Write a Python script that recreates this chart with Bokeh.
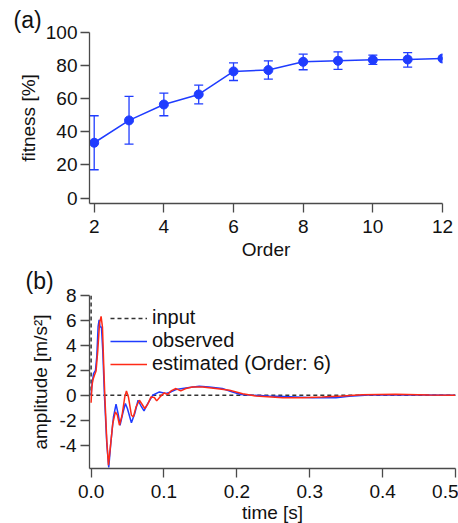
from bokeh.plotting import figure
from bokeh.layouts import column
from bokeh.models import (ColumnDataSource, Whisker, TeeHead, Legend,
                          LegendItem, FixedTicker)
from bokeh.embed import file_html
from bokeh.resources import INLINE

# ---------------- data: panel (a) ----------------
order = [2, 3, 4, 5, 6, 7, 8, 9, 10, 11, 12]
fitness = [33.4, 46.9, 56.5, 62.6, 76.5, 77.3, 82.3, 82.9, 83.5, 83.7, 84.3]
fit_upper = [49.7, 61.4, 63.4, 68.2, 81.7, 82.9, 86.9, 88.3, 86.3, 87.9, 84.8]
fit_lower = [17.1, 32.6, 49.7, 56.9, 71.0, 71.8, 77.5, 77.7, 80.7, 79.1, 83.8]
a_xticks = [2, 4, 6, 8, 10, 12]
a_yticks = [0, 20, 40, 60, 80, 100]

# ---------------- data: panel (b) ----------------
input_t = [0.0, 0.0, 0.5]
input_amp = [8.0, 0.0, 0.0]

obs_t = [0.0, 0.0014, 0.0033, 0.006, 0.0078, 0.0096, 0.011, 0.0123, 0.0142,
         0.016, 0.0183, 0.0215, 0.0242, 0.027, 0.0307, 0.0342, 0.037, 0.0397,
         0.0434, 0.047, 0.0498, 0.0553, 0.0599, 0.0644, 0.068, 0.0726, 0.0777,
         0.0845, 0.0937, 0.1027, 0.1096, 0.1164, 0.1347, 0.1485, 0.162, 0.180,
         0.194, 0.2055, 0.2215, 0.244, 0.281, 0.304, 0.336, 0.354, 0.381,
         0.418, 0.454, 0.5]
obs_amp = [0.0, 0.94, 1.74, 2.0, 3.1, 5.5, 6.05, 5.47, 5.47,
           3.6, 0.0, -3.86, -5.78, -3.86, -1.73, -0.72, -1.46, -2.4,
           -1.46, -0.66, -1.06, -2.2, -1.46, -0.4, -0.8, -1.25, -0.66,
           0.0, 0.27, 0.14, 0.27, 0.46, 0.62, 0.72, 0.67, 0.54,
           0.27, 0.06, 0.0, -0.05, -0.13, -0.19, -0.19, -0.08, 0.03,
           0.05, 0.03, 0.0]

est_t = [0.0, 0.001, 0.0023, 0.0046, 0.0068, 0.0092, 0.0115, 0.0137, 0.0156,
         0.0174, 0.0188, 0.0215, 0.0238, 0.026, 0.0297, 0.0334, 0.0361, 0.0389,
         0.0425, 0.0462, 0.0485, 0.0512, 0.0553, 0.058, 0.0617, 0.0663, 0.0699,
         0.0736, 0.0777, 0.0822, 0.0868, 0.09, 0.0945, 0.1005, 0.105, 0.1096,
         0.1164, 0.123, 0.130, 0.139, 0.153, 0.171, 0.19, 0.208, 0.226, 0.263,
         0.29, 0.317, 0.345, 0.372, 0.418, 0.464, 0.5]
est_amp = [-0.6, 0.67, 1.2, 1.6, 1.95, 3.6, 5.74, 6.32, 5.47,
           2.27, 0.0, -3.6, -5.6, -4.4, -2.26, -1.33, -1.6, -2.4,
           -1.6, -0.13, 0.35, -0.13, -1.6, -1.73, -0.93, -0.4, -0.72,
           -1.06, -0.72, -0.13, -0.18, -0.45, -0.13, 0.19, 0.06, 0.35,
           0.54, 0.35, 0.54, 0.67, 0.67, 0.54, 0.4, 0.13, -0.05, -0.19,
           -0.19, -0.13, -0.05, 0.05, 0.08, 0.03, 0.0]

b_xticks = [0.0, 0.1, 0.2, 0.3, 0.4, 0.5]
b_xlabels = ["0.0", "0.1", "0.2", "0.3", "0.4", "0.5"]
b_yticks = [-4, -2, 0, 2, 4, 6, 8]
b_ylabels = ["-4", "-2", "0", "2", "4", "6", "8"]

legend_labels = ["input", "observed", "estimated (Order: 6)"]
panel_tags = ["(a)", "(b)"]

FONT = "Liberation Sans"
BLUE = "#1f3cff"
RED = "#ff2a17"
AXIS = "#4a4a4a"


def style_axes(p, tick_size="19px", label_size="19px"):
    for ax in (p.xaxis[0], p.yaxis[0]):
        ax.axis_line_color = AXIS
        ax.axis_line_width = 1.3
        ax.major_tick_line_color = AXIS
        ax.major_tick_line_width = 1.3
        ax.major_tick_out = 9
        ax.major_tick_in = 0
        ax.minor_tick_line_color = None
        ax.major_label_text_font = FONT
        ax.major_label_text_font_size = tick_size
        ax.major_label_text_color = "#111111"
        ax.axis_label_text_font = FONT
        ax.axis_label_text_font_size = label_size
        ax.axis_label_text_font_style = "normal"
        ax.axis_label_text_color = "#111111"
    p.grid.visible = False
    p.outline_line_color = None
    p.background_fill_color = "white"
    p.border_fill_color = "white"


def style_title(p, text, offset, valign):
    p.title.text = text
    p.title.align = "left"
    p.title.vertical_align = valign
    p.title.offset = offset
    p.title.standoff = 0
    p.title.text_font = FONT
    p.title.text_font_size = "23px"
    p.title.text_font_style = "normal"
    p.title.text_color = "#111111"


# ---------------- panel (a) ----------------
p1 = figure(frame_width=353, frame_height=171, x_range=(1.865, 12),
            y_range=(-3.3, 100), output_backend="svg", toolbar_location=None,
            min_border_left=89, min_border_right=16, min_border_top=32,
            min_border_bottom=56)
style_axes(p1)
style_title(p1, panel_tags[0], -76, "bottom")
p1.xaxis.ticker = FixedTicker(ticks=a_xticks)
p1.yaxis.ticker = FixedTicker(ticks=a_yticks)
p1.xaxis.axis_label = "Order"
p1.yaxis.axis_label = "fitness [%]"
p1.xaxis.major_label_standoff = 7
p1.yaxis.major_label_standoff = 3
p1.xaxis.axis_label_standoff = 3
p1.yaxis.axis_label_standoff = 4

src_a = ColumnDataSource(dict(x=order, y=fitness, up=fit_upper, lo=fit_lower))
p1.add_layout(Whisker(source=src_a, base="x", upper="up", lower="lo",
                      line_color=BLUE, line_width=1.3,
                      upper_head=TeeHead(size=9, line_color=BLUE, line_width=1.3),
                      lower_head=TeeHead(size=9, line_color=BLUE, line_width=1.3)))
p1.line("x", "y", source=src_a, line_color=BLUE, line_width=1.5)
p1.scatter("x", "y", source=src_a, size=9, fill_color=BLUE, line_color=BLUE)

# ---------------- panel (b) ----------------
p2 = figure(frame_width=366, frame_height=173, x_range=(-0.0022, 0.5),
            y_range=(-5.87, 8.0), output_backend="svg", toolbar_location=None,
            min_border_left=77, min_border_right=15, min_border_top=33,
            min_border_bottom=57)
style_axes(p2)
style_title(p2, panel_tags[1], -64, "top")
p2.xaxis.ticker = FixedTicker(ticks=b_xticks)
p2.yaxis.ticker = FixedTicker(ticks=b_yticks)
p2.xaxis.major_label_overrides = {t: l for t, l in zip(b_xticks, b_xlabels)}
p2.yaxis.major_label_overrides = {t: l for t, l in zip(b_yticks, b_ylabels)}
p2.xaxis.axis_label = "time [s]"
p2.yaxis.axis_label = "amplitude [m/s\u00b2]"
p2.xaxis.major_label_standoff = 7
p2.yaxis.major_label_standoff = 4
p2.xaxis.axis_label_standoff = 1
p2.yaxis.axis_label_standoff = 6

r_in = p2.line(input_t, input_amp, line_color="#333333", line_width=1.5,
               line_dash="4 3")
r_obs = p2.line(obs_t, obs_amp, line_color=BLUE, line_width=1.5)
r_est = p2.line(est_t, est_amp, line_color=RED, line_width=1.5)

leg = Legend(items=[LegendItem(label=legend_labels[0], renderers=[r_in]),
                    LegendItem(label=legend_labels[1], renderers=[r_obs]),
                    LegendItem(label=legend_labels[2], renderers=[r_est])],
             location=(21, 93), orientation="vertical",
             glyph_width=37, glyph_height=20, label_height=20,
             label_standoff=5, spacing=0, padding=0, margin=0,
             border_line_color=None, background_fill_alpha=0,
             label_text_font=FONT, label_text_font_size="20px",
             label_text_color="#111111")
p2.add_layout(leg)

layout = column(p1, p2, spacing=0)
open("out.html", "w").write(file_html(layout, INLINE))
